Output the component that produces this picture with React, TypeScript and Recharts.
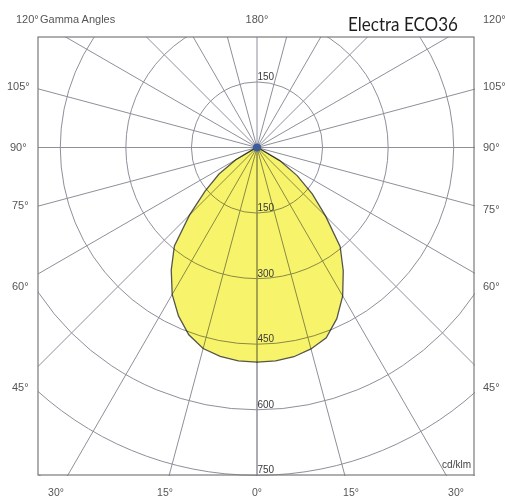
import React from 'react';
import { RadarChart, Radar, PolarGrid, PolarAngleAxis, PolarRadiusAxis } from 'recharts';

// Gamma angles (deg) of the measured C-planes
const gammaAngles = [0, 5, 10, 15, 20, 25, 30, 35, 40, 45, 50, 55, 60, 65, 70, 75, 80, 85, 90, 95, 100, 105, 110, 115, 120, 125, 130, 135, 140, 145, 150, 155, 160, 165, 170, 175, 180];
// Luminous intensity (cd/klm), C0 plane (right half)
const intensityC0 = [491, 490, 486, 477, 463, 432, 392, 344, 296, 222, 165, 112, 60, 12, 0, 0, 0, 0, 0, 0, 0, 0, 0, 0, 0, 0, 0, 0, 0, 0, 0, 0, 0, 0, 0, 0, 0];
// Luminous intensity (cd/klm), C180 plane (left half)
const intensityC180 = [491, 490, 485, 476, 456, 425, 388, 342, 294, 218, 155, 106, 56, 10, 0, 0, 0, 0, 0, 0, 0, 0, 0, 0, 0, 0, 0, 0, 0, 0, 0, 0, 0, 0, 0, 0, 0];

const radiusTicks = [0, 150, 300, 450, 600, 750, 900, 1050];
// radius ticks that carry a label (the outer grid circles lie outside the frame)
const labelledRadiusTicks = [150, 300, 450, 600, 750];
// radius tick also labelled on the upward (180°) axis
const upwardLabelledTicks = [150];
const angleTicks = [0, 15, 30, 45, 60, 75, 90, 105, 120, 135, 150, 165, 180, 195, 210, 225, 240, 255, 270, 285, 300, 315, 330, 345, 360];

const title = 'Electra ECO36';
const axisTitle = 'Gamma Angles';
const unitLabel = 'cd/klm';
const topAngleLabel = '180°';
const sideAngleLabels = ['120°', '105°', '90°', '75°', '60°', '45°'];
const bottomAngleLabels = ['30°', '15°', '0°', '15°', '30°'];

// theta runs 0..360 counter-clockwise starting at the nadir
const data = [
  ...gammaAngles.map((g, i) => ({ theta: g, value: intensityC0[i] })),
  ...gammaAngles
    .map((g, i) => ({ theta: 360 - g, value: intensityC180[i] }))
    .filter((d) => d.theta > 180 && d.theta < 360)
    .reverse(),
];

const FONT = "'Liberation Sans', Arial, sans-serif";

const RadiusTick = (props: any) => {
  const { x, y, payload, cy } = props;
  if (payload.value === 0) {
    return <circle cx={x} cy={y} r={4} fill="#3d5a9c" />;
  }
  if (!labelledRadiusTicks.includes(payload.value)) return <g />;
  const showUp = upwardLabelledTicks.includes(payload.value) && typeof cy === 'number';
  return (
    <g>
      <text x={x + 0.5} y={y - 2} fontSize={10} fill="#3a3a3a" fontFamily={FONT} textAnchor="start">
        {payload.value}
      </text>
      {showUp && (
        <text x={x + 0.5} y={2 * cy - y - 2} fontSize={10} fill="#3a3a3a" fontFamily={FONT} textAnchor="start">
          {payload.value}
        </text>
      )}
    </g>
  );
};

const sideYs = [23, 90, 151, 209, 290, 391];
const leftXs = [16, 7, 10, 12, 12, 12];
const bottomXs = [56, 165, 257, 351, 456];

export default function App() {
  return (
    <div style={{ position: 'absolute', left: 0, top: 0, width: 505, height: 501, background: '#fff' }}>
      <style>{`.recharts-radar-polygon { mix-blend-mode: multiply; }`}</style>
      <div style={{ position: 'absolute', left: 38, top: 37, width: 437, height: 439, overflow: 'hidden' }}>
        <RadarChart
          width={437}
          height={439}
          cx={219}
          cy={110.5}
          outerRadius={459}
          startAngle={-90}
          endAngle={270}
          margin={{ top: 0, right: 0, bottom: 0, left: 0 }}
          data={data}
        >
          <PolarGrid gridType="circle" stroke="#8e909a" strokeWidth={1} />
          <PolarAngleAxis
            dataKey="theta"
            type="number"
            domain={[0, 360]}
            ticks={angleTicks as any}
            tickCount={25}
            tick={false}
            axisLine={false}
            tickLine={false}
          />
          <Radar
            dataKey="value"
            stroke="#55564a"
            strokeWidth={1.3}
            fill="#f7f46c"
            fillOpacity={1}
            isAnimationActive={false}
          />
          <PolarRadiusAxis
            angle={-90}
            type="number"
            domain={[0, 1050]}
            ticks={radiusTicks as any}
            tickCount={8}
            axisLine={false}
            tickLine={false}
            tick={RadiusTick}
          />
        </RadarChart>
      </div>
      <svg width={505} height={501} style={{ position: 'absolute', left: 0, top: 0, pointerEvents: 'none' }}>
        <rect x={38} y={37} width={436} height={438} fill="none" stroke="#7a7a7a" strokeWidth={1.2} />
        <text x={40} y={23} fontSize={11} fill="#555" fontFamily={FONT}>{axisTitle}</text>
        <text x={257} y={23} fontSize={11} fill="#555" fontFamily={FONT} textAnchor="middle">{topAngleLabel}</text>
        <text x={348} y={31} fontSize={19} fill="#1e1e1e" fontFamily="Lato, 'Open Sans', sans-serif" textLength={110} lengthAdjust="spacingAndGlyphs">{title}</text>
        {sideAngleLabels.map((l, i) => (
          <text key={'l' + i} x={leftXs[i]} y={sideYs[i]} fontSize={11} fill="#555" fontFamily={FONT}>{l}</text>
        ))}
        {sideAngleLabels.map((l, i) => (
          <text key={'r' + i} x={483} y={sideYs[i] + (i === 3 ? 4 : 0)} fontSize={11} fill="#555" fontFamily={FONT}>{l}</text>
        ))}
        {bottomAngleLabels.map((l, i) => (
          <text key={'b' + i} x={bottomXs[i]} y={496} fontSize={10.5} fill="#555" fontFamily={FONT} textAnchor="middle">{l}</text>
        ))}
        <text x={471} y={468} fontSize={10} fill="#444" fontFamily={FONT} textAnchor="end">{unitLabel}</text>
      </svg>
    </div>
  );
}
